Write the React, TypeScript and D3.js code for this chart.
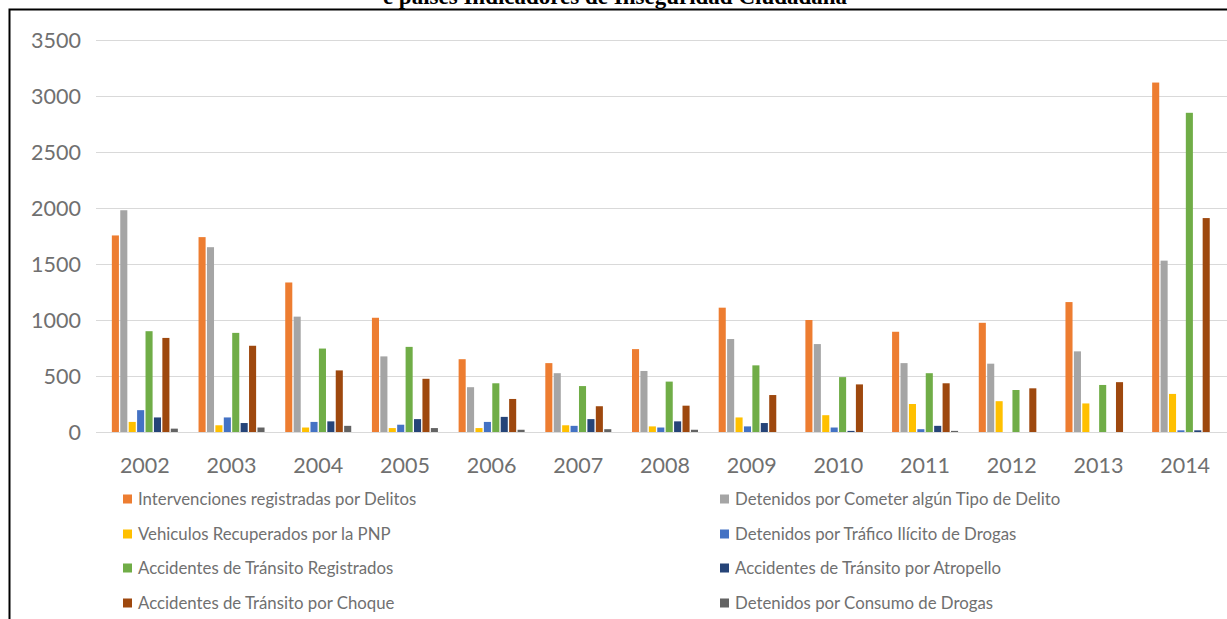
import React from "react";
import * as d3 from "d3";

const years = ["2002","2003","2004","2005","2006","2007","2008","2009","2010","2011","2012","2013","2014"];

const seriesNames = [
  "Intervenciones registradas por Delitos",
  "Detenidos por Cometer algún Tipo de Delito",
  "Vehiculos Recuperados por la PNP",
  "Detenidos por Tráfico Ilícito de Drogas",
  "Accidentes de Tránsito Registrados",
  "Accidentes de Tránsito por Atropello",
  "Accidentes de Tránsito por Choque",
  "Detenidos por Consumo de Drogas",
];

const seriesColors = ["#ED7D31","#A5A5A5","#FFC000","#4472C4","#70AD47","#264478","#9E480E","#636363"];

const intervenciones = [1755,1740,1335,1020,650,615,740,1110,1000,895,975,1160,3120];
const detenidosDelito = [1980,1650,1030,675,400,525,545,830,785,615,610,720,1530];
const vehiculos = [90,60,40,35,35,60,50,130,150,250,275,255,340];
const traficoDrogas = [195,130,90,65,90,55,40,50,40,25,0,0,15];
const accidentesRegistrados = [900,885,745,760,435,410,450,595,490,525,375,420,2850];
const atropello = [130,80,95,115,135,115,95,80,10,55,0,0,15];
const choque = [840,770,550,475,295,230,235,330,425,435,390,445,1910];
const consumoDrogas = [30,40,55,35,20,25,20,0,0,10,0,0,0];

const allSeries = [intervenciones, detenidosDelito, vehiculos, traficoDrogas, accidentesRegistrados, atropello, choque, consumoDrogas];

const yTicks = [0,500,1000,1500,2000,2500,3000,3500];

export default function App() {
  const W = 1227, H = 619;
  const x0 = d3.scaleBand<string>().domain(years).range([101.5, 1228.5]).padding(0);
  const groupW = 66;
  const bw = x0.bandwidth();
  const x1 = d3.scaleBand<number>().domain(d3.range(seriesNames.length)).range([(bw - groupW) / 2, (bw + groupW) / 2]).paddingInner(0.16);
  const y = d3.scaleLinear().domain([0, 3500]).range([432, 40]);
  const font = "Lato, Calibri, sans-serif";
  const legendRows = [499, 534, 568, 603];

  return (
    <svg width={W} height={H} style={{ position: "absolute", left: 0, top: 0, background: "#fff" }}>
      <rect x={0} y={0} width={W} height={H} fill="#fff" />
      <text x={615} y={4} textAnchor="middle" fontFamily="'Liberation Serif', 'Times New Roman', serif" fontWeight="bold" fontSize={23} fill="#000">
        e países Indicadores de Inseguridad Ciudadana
      </text>
      <rect x={9.5} y={9.5} width={W + 20} height={H + 20} fill="none" stroke="#000" strokeWidth={2} />
      {yTicks.map((t) => (
        <g key={t}>
          <line x1={96} x2={W} y1={Math.round(y(t)) + 0.5} y2={Math.round(y(t)) + 0.5} stroke="#d9d9d9" strokeWidth={1.2} />
          <text x={81} y={y(t)} dy="0.35em" textAnchor="end" fontFamily={font} fontSize={21.5} fill="#707070">{t}</text>
        </g>
      ))}
      {years.map((yr, i) => (
        <g key={yr} transform={`translate(${x0(yr)},0)`}>
          {allSeries.map((s, k) => (
            s[i] > 0 ? (
              <rect key={k} x={x1(k)} y={y(s[i])} width={x1.bandwidth()} height={y(0) - y(s[i])} fill={seriesColors[k]} />
            ) : null
          ))}
          <text x={bw / 2} y={465} dy="0.35em" textAnchor="middle" fontFamily={font} fontSize={21.5} fill="#707070">{yr}</text>
        </g>
      ))}
      {seriesNames.map((name, k) => {
        const col = k % 2;
        const row = Math.floor(k / 2);
        const sx = col === 0 ? 123 : 720;
        const cy = legendRows[row];
        return (
          <g key={name}>
            <rect x={sx} y={cy - 4.5} width={9} height={9} fill={seriesColors[k]} />
            <text x={sx + 15} y={cy} dy="0.35em" fontFamily={font} fontSize={16.8} fill="#707070">{name}</text>
          </g>
        );
      })}
    </svg>
  );
}
